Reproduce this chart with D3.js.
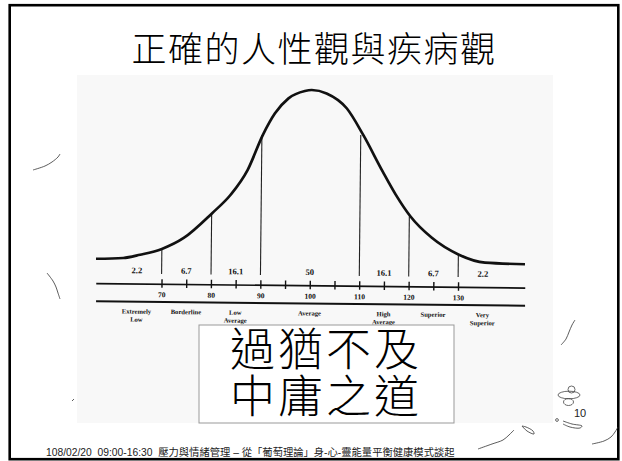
<!DOCTYPE html>
<html>
<head>
<meta charset="utf-8">
<title>正確的人性觀與疾病觀</title>
<script src="https://cdn.jsdelivr.net/npm/d3@7"></script>
<style>
body{margin:0;background:#fff;}
svg{display:block;}
</style>
</head>
<body>
<svg width="622" height="461"></svg>
<script>
// bell curve (IQ score, height with peak = 100)
var curveIQ = [56.7, 62.2, 65.6, 70, 74.4, 80.1, 83.8, 87.2, 90.2, 92.6, 95.3, 98.6, 100, 103, 107.1, 110.5, 114.5, 117.2, 120.2, 124.6, 130, 135.4, 143.5];
var curveH  = [0.6, 1.2, 3.2, 6.7, 13.2, 27.8, 38.6, 53.2, 73.6, 86.2, 95, 99.4, 100, 98.1, 89.6, 74.2, 53.1, 39.7, 27.2, 14.8, 5.3, 0.7, 0];

// band dividers and where they meet the curve
var dividerIQ  = [70, 80, 90, 110, 120, 130];
var dividerTop = [6.7, 27.8, 73.6, 74.2, 27.2, 5.3];

// bands: centre, percent, name
var bandIQ      = [65, 75, 85, 100, 115, 125, 135];
var bandPercent = [2.2, 6.7, 16.1, 50, 16.1, 6.7, 2.2];
var bandName    = [["Extremely", "Low"], ["Borderline"], ["Low", "Average"], ["Average"], ["High", "Average"], ["Superior"], ["Very", "Superior"]];

// axis ticks
var tickIQ    = [70, 75, 80, 85, 90, 95, 100, 105, 110, 115, 120, 125, 130];
var tickLabel = [70, 80, 90, 100, 110, 120, 130];

var titleText  = "正確的人性觀與疾病觀";
var boxLines   = ["過猶不及", "中庸之道"];
var footerText = "108/02/20  09:00-16:30  壓力與情緒管理 – 從「葡萄理論」身-心-靈能量平衡健康模式談起";
var pageNo     = "10";

var svg = d3.select("svg");
var serif = "'Liberation Serif','DejaVu Serif',serif";
var cjk = "'Noto Sans CJK TC','Noto Sans CJK SC',sans-serif";

// slide frame
svg.append("rect")
    .attr("x", 9.7).attr("y", 5.2)
    .attr("width", 608.6).attr("height", 454)
    .attr("fill", "#fff")
    .attr("stroke", "#000")
    .attr("stroke-width", 2.6);

svg.append("text")
    .attr("x", 314).attr("y", 46)
    .attr("text-anchor", "middle")
    .attr("dominant-baseline", "central")
    .style("font-family", cjk)
    .style("font-weight", "300")
    .style("font-size", "35px")
    .style("letter-spacing", "1.5px")
    .attr("fill", "#000")
    .text(titleText);

// the scanned picture
svg.append("rect")
    .attr("x", 77).attr("y", 75)
    .attr("width", 476).attr("height", 348)
    .attr("fill", "#f8f8f8");

var x = d3.scaleLinear()
    .domain([56.7, 143.5])
    .range([96, 525]);

var y = d3.scaleLinear()
    .domain([0, 100])
    .range([262, 90]);

// scan is a bit tilted
var g = svg.append("g").attr("transform", "rotate(0.6,310,262)");

var line = d3.line()
    .x(function(d) { return x(d[0]); })
    .y(function(d) { return y(d[1]); })
    .curve(d3.curveMonotoneX);

g.selectAll(".divider")
    .data(d3.zip(dividerIQ, dividerTop))
    .enter().append("line")
    .attr("class", "divider")
    .attr("x1", function(d) { return x(d[0]); })
    .attr("x2", function(d) { return x(d[0]); })
    .attr("y1", function(d) { return y(d[1]); })
    .attr("y2", 275.5)
    .attr("stroke", "#222")
    .attr("stroke-width", 1.1);

g.append("path")
    .datum(d3.zip(curveIQ, curveH))
    .attr("d", line)
    .attr("fill", "none")
    .attr("stroke", "#111")
    .attr("stroke-width", 2.7);

g.selectAll(".pct")
    .data(d3.zip(bandIQ, bandPercent))
    .enter().append("text")
    .attr("class", "pct")
    .attr("x", function(d) { return x(d[0]); })
    .attr("y", 275)
    .attr("text-anchor", "middle")
    .style("font-family", serif)
    .style("font-weight", "bold")
    .style("font-size", "8.5px")
    .attr("fill", "#111")
    .text(function(d) { return d[1]; });

// scale with ticks crossing the line
var ax = g.append("g")
    .attr("class", "axis")
    .attr("transform", "translate(0,285.3)")
    .call(d3.axisBottom(x)
        .tickValues(tickIQ)
        .tickSizeOuter(0)
        .tickFormat(function(d) { return tickLabel.indexOf(d) >= 0 ? d : ""; }));
ax.select(".domain").attr("stroke", "#111").attr("stroke-width", 1.7);
ax.selectAll(".tick line").attr("y1", -4.5).attr("y2", 4).attr("stroke", "#111").attr("stroke-width", 1.4);
ax.selectAll(".tick text")
    .attr("y", 13.5).attr("dy", null)
    .style("font-family", serif)
    .style("font-weight", "bold")
    .style("font-size", "7.5px")
    .attr("fill", "#111");

var ax2 = g.append("g")
    .attr("transform", "translate(0,303)")
    .call(d3.axisBottom(x).tickValues([]).tickSizeOuter(0));
ax2.select(".domain").attr("stroke", "#111").attr("stroke-width", 2);

// one text per line so lines stay apart
var nameLines = [];
bandName.forEach(function(n, i) {
    n.forEach(function(s, j) { nameLines.push({iq: bandIQ[i], row: j, label: s}); });
});
g.selectAll(".band")
    .data(nameLines)
    .enter().append("text")
    .attr("class", "band")
    .attr("x", function(d) { return x(d.iq); })
    .attr("y", function(d) { return 315.5 + d.row * 8; })
    .attr("text-anchor", "middle")
    .style("font-family", serif)
    .style("font-weight", "bold")
    .style("font-size", "6.6px")
    .attr("fill", "#111")
    .text(function(d) { return d.label; });

// text box
svg.append("rect")
    .attr("x", 199).attr("y", 325)
    .attr("width", 255).attr("height", 98)
    .attr("fill", "#fff")
    .attr("stroke", "#999")
    .attr("stroke-width", 1);

svg.selectAll(".boxline")
    .data(boxLines)
    .enter().append("text")
    .attr("class", "boxline")
    .attr("x", 326)
    .attr("y", function(d, i) { return 346 + i * 47; })
    .attr("text-anchor", "middle")
    .attr("dominant-baseline", "central")
    .style("font-family", cjk)
    .style("font-weight", "300")
    .style("font-size", "45px")
    .style("letter-spacing", "3px")
    .attr("fill", "#000")
    .text(function(d) { return d; });

svg.append("text")
    .attr("x", 574).attr("y", 417)
    .style("font-family", "'Liberation Sans',Arial,sans-serif")
    .style("font-size", "11px")
    .attr("fill", "#222")
    .text(pageNo);

svg.append("text")
    .attr("x", 46).attr("y", 456)
    .style("white-space", "pre")
    .style("font-family", "'Liberation Sans','Noto Sans CJK TC',sans-serif")
    .style("font-size", "10.3px")
    .attr("fill", "#222")
    .text(footerText);

// pen marks on the printed slide
var marks = [
    [[33, 170], [45, 166], [52, 162], [58, 157], [60, 154]],
    [[47, 273], [53, 281], [56, 287], [58, 293], [60, 299]],
    [[72, 401], [74, 399]],
    [[561, 345], [566, 339], [569, 332], [572, 325], [575, 320]],
    [[478, 449], [492, 444], [503, 440], [509, 435], [514, 430]],
    [[592, 444], [604, 441], [611, 437], [615, 432], [618, 427]],
    [[522, 426], [527, 431], [534, 434], [533, 431], [526, 427], [522, 426]],
    [[563, 421], [572, 424], [582, 426], [580, 428], [570, 427], [563, 424]]
];
var pen = d3.line().curve(d3.curveCatmullRom);
svg.selectAll(".mark")
    .data(marks)
    .enter().append("path")
    .attr("class", "mark")
    .attr("d", pen)
    .attr("fill", "none")
    .attr("stroke", "#333")
    .attr("stroke-width", 0.8);

// little flower doodle near the page number
var doodle = svg.append("g").attr("fill", "none").attr("stroke", "#444").attr("stroke-width", 0.8);
doodle.append("ellipse").attr("cx", 571.5).attr("cy", 389.5).attr("rx", 3.5).attr("ry", 3.5);
doodle.append("ellipse").attr("cx", 569).attr("cy", 395).attr("rx", 11).attr("ry", 3.8);
doodle.append("ellipse").attr("cx", 568.5).attr("cy", 402).attr("rx", 5).attr("ry", 3.5);
doodle.append("circle").attr("cx", 557).attr("cy", 420).attr("r", 1.4);
</script>
</body>
</html>
